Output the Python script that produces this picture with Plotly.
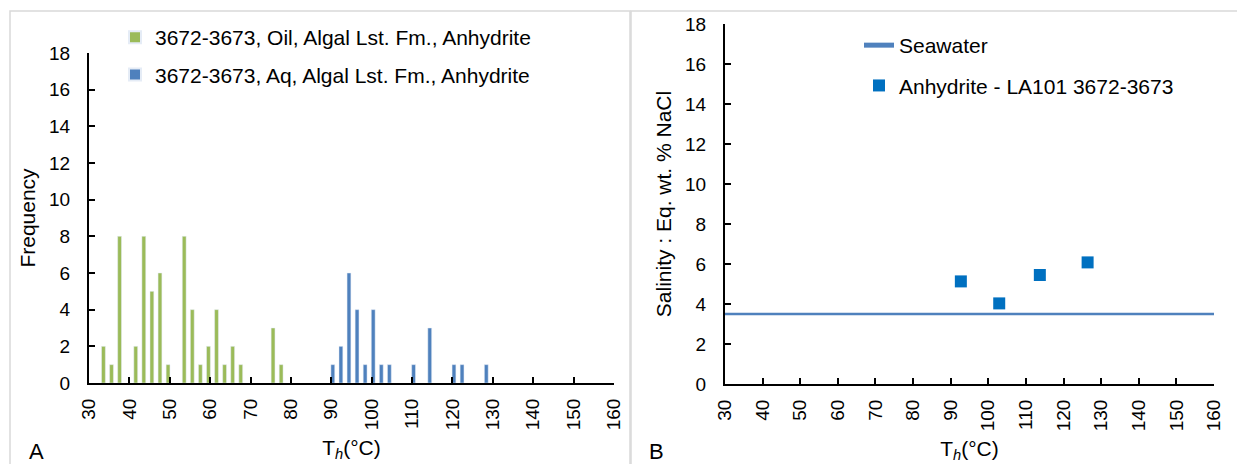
import plotly.graph_objects as go

W, H = 1237, 464

# ---- data: panel A (histogram of homogenization temperatures) ----
oil_name = "3672-3673, Oil, Algal Lst. Fm., Anhydrite"
oil_bins = [34, 36, 38, 42, 44, 46, 48, 50, 54, 56, 58, 60, 62, 64, 66, 68, 76, 78]
oil_freq = [2, 1, 8, 2, 8, 5, 6, 1, 8, 4, 1, 2, 4, 1, 2, 1, 3, 1]

aq_name = "3672-3673, Aq, Algal Lst. Fm., Anhydrite"
aq_bins = [90, 92, 94, 96, 98, 100, 102, 104, 110, 114, 120, 122, 128]
aq_freq = [1, 2, 6, 4, 1, 4, 1, 1, 1, 3, 1, 1, 1]

# ---- data: panel B (salinity vs Th) ----
sea_name = "Seawater"
sea_x = [30, 160]
sea_y = [3.5, 3.5]

anh_name = "Anhydrite - LA101 3672-3673"
anh_th = [92.7, 102.9, 113.7, 126.4]
anh_sal = [5.13, 4.03, 5.45, 6.08]

x_ticks = list(range(30, 161, 10))
y_ticks = list(range(0, 19, 2))

GREEN = "#9BBB59"
BLUE = "#4F81BD"
MARK = "#0070C0"
FONT = "Liberation Sans, Arial, sans-serif"
TFS = 19   # tick labels
FS = 21    # titles / legend


def fx(px):
    return px / W


def fy(py):
    return 1 - py / H


fig = go.Figure()
fig.add_trace(go.Bar(x=oil_bins, y=oil_freq, name=oil_name, marker_color=GREEN,
                     width=0.95, offset=-0.9, xaxis="x", yaxis="y",
                     legend="legend", legendgroup="g1"))
fig.add_trace(go.Bar(x=aq_bins, y=aq_freq, name=aq_name, marker_color=BLUE,
                     width=0.95, offset=-0.1, xaxis="x", yaxis="y",
                     legend="legend", legendgroup="g2"))
fig.add_trace(go.Scatter(x=sea_x, y=sea_y, mode="lines", name=sea_name,
                         line=dict(color=BLUE, width=2.5), xaxis="x2", yaxis="y2",
                         legend="legend2", legendgroup="g3"))
fig.add_trace(go.Scatter(x=anh_th, y=anh_sal, mode="markers", name=anh_name,
                         marker=dict(symbol="square", size=12, color=MARK),
                         xaxis="x2", yaxis="y2", legend="legend2", legendgroup="g4"))

axis_common = dict(showline=True, linecolor="black", linewidth=2, ticks="inside",
                   ticklen=6, tickwidth=2, tickcolor="black", showgrid=False,
                   zeroline=False, tickfont=dict(family=FONT, size=TFS, color="black"),
                   automargin=False)

title_font = dict(family=FONT, size=FS, color="black")
xtitle = "T<sub><i>h</i></sub>(°C)"

fig.update_layout(
    width=W, height=H,
    margin=dict(l=0, r=0, t=0, b=0),
    paper_bgcolor="white", plot_bgcolor="white",
    font=dict(family=FONT, size=FS, color="black"),
    barmode="overlay",
    xaxis=dict(domain=[fx(89), fx(614)], range=[30, 160], tickvals=x_ticks,
               tickangle=-90, anchor="y", ticklabelstandoff=6,
               title=dict(text=xtitle, font=title_font, standoff=11), **axis_common),
    yaxis=dict(domain=[fy(383), fy(53)], range=[0, 18], tickvals=y_ticks, anchor="x",
               ticklabelstandoff=13,
               title=dict(text="Frequency", font=title_font, standoff=8), **axis_common),
    xaxis2=dict(domain=[fx(725), fx(1214)], range=[30, 160], tickvals=x_ticks,
                tickangle=-90, anchor="y2", ticklabelstandoff=6,
                title=dict(text=xtitle, font=title_font, standoff=11), **axis_common),
    yaxis2=dict(domain=[fy(384), fy(24)], range=[0, 18], tickvals=y_ticks, anchor="x2",
                ticklabelstandoff=13,
                title=dict(text="Salinity : Eq. wt. % NaCl", font=title_font, standoff=8),
                **axis_common),
    legend=dict(x=fx(115), y=fy(17), xanchor="left", yanchor="top",
                bgcolor="rgba(0,0,0,0)", font=dict(family=FONT, size=FS),
                tracegroupgap=7, itemsizing="constant"),
    legend2=dict(x=fx(859), y=fy(25), xanchor="left", yanchor="top",
                 bgcolor="rgba(0,0,0,0)", font=dict(family=FONT, size=FS),
                 tracegroupgap=10, itemsizing="constant"),
    showlegend=True,
)

fig.add_shape(type="rect", xref="paper", yref="paper", x0=fx(10), x1=fx(630),
              y0=fy(480), y1=fy(11), line=dict(color="#D9D9D9", width=1.5), layer="below")
fig.add_shape(type="rect", xref="paper", yref="paper", x0=fx(631), x1=fx(1250),
              y0=fy(480), y1=fy(11), line=dict(color="#D9D9D9", width=1.5), layer="below")

fig.add_annotation(text="A", x=fx(27), y=fy(451), xref="paper", yref="paper",
                   xanchor="left", yanchor="middle", showarrow=False,
                   font=dict(family=FONT, size=22, color="black"))
fig.add_annotation(text="B", x=fx(647), y=fy(451), xref="paper", yref="paper",
                   xanchor="left", yanchor="middle", showarrow=False,
                   font=dict(family=FONT, size=22, color="black"))

fig.write_html("out.html", config={"displayModeBar": False},
               post_script="document.body.style.margin='0px';document.body.style.overflow='hidden';")
